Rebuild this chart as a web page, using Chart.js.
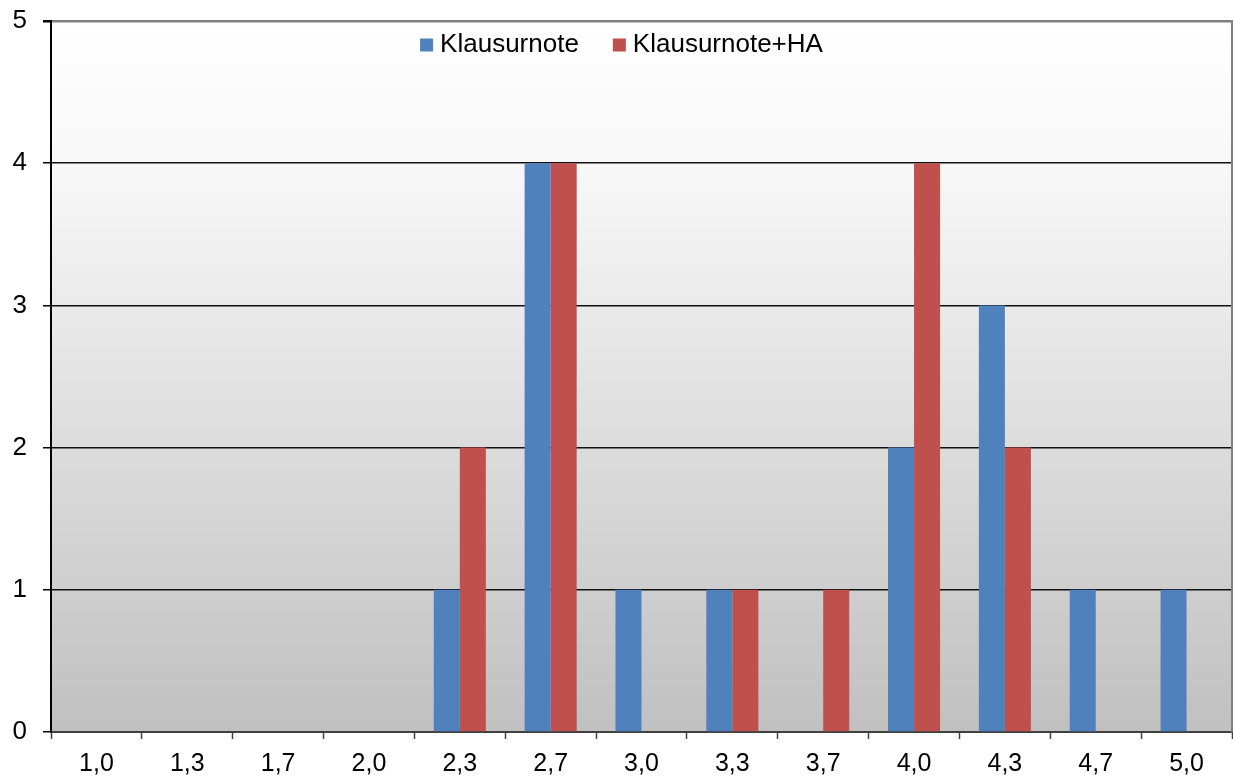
<!DOCTYPE html>
<html>
<head>
<meta charset="utf-8">
<script src="https://cdn.jsdelivr.net/npm/chart.js@4"></script>
<style>
  body { margin: 0; background: #fff; }
  canvas { display: block; }
</style>
</head>
<body>
<canvas id="chart" width="1233" height="781"></canvas>
<script>
const grades = ["1,0", "1,3", "1,7", "2,0", "2,3", "2,7", "3,0", "3,3", "3,7", "4,0", "4,3", "4,7", "5,0"];
const klausurnote = [0, 0, 0, 0, 1, 4, 1, 1, 0, 2, 3, 1, 1];
const klausurnoteHA = [0, 0, 0, 0, 2, 4, 0, 1, 1, 4, 2, 0, 0];
const seriesNames = ["Klausurnote", "Klausurnote+HA"];
const seriesColors = ["#4F81BD", "#C0504D"];

const FONT = "'Liberation Sans', Arial, sans-serif";

// gradient fill behind the plot, plus the grey right border
const plotBackground = {
    id: "plotBackground",
    beforeDraw(chart) {
        const { ctx, chartArea: a } = chart;
        const g = ctx.createLinearGradient(0, a.top, 0, a.bottom);
        g.addColorStop(0, "#ffffff");
        g.addColorStop(0.2, "#f8f8f8");
        g.addColorStop(1, "#c0c0c0");
        ctx.save();
        ctx.fillStyle = g;
        ctx.fillRect(a.left, a.top, a.right - a.left, a.bottom - a.top);
        ctx.restore();
    },
    afterDraw(chart) {
        const { ctx, chartArea: a } = chart;
        ctx.save();
        ctx.strokeStyle = "#808080";
        ctx.lineWidth = 2;
        ctx.beginPath();
        ctx.moveTo(a.right, a.top - 1);
        ctx.lineTo(a.right, a.bottom);
        ctx.stroke();
        ctx.restore();
    }
};

// legend drawn inside the plot area, like the original
const innerLegend = {
    id: "innerLegend",
    afterDatasetsDraw(chart) {
        const { ctx, chartArea: a } = chart;
        const box = 13, gapText = 7, gapItem = 34;
        ctx.save();
        ctx.font = "26px " + FONT;
        ctx.textBaseline = "middle";
        const items = chart.data.datasets.map(d => ({
            label: d.label, color: d.backgroundColor,
            w: box + gapText + ctx.measureText(d.label).width
        }));
        const total = items.reduce((s, it) => s + it.w, 0) + gapItem * (items.length - 1);
        let x = (a.left + a.right) / 2 - 20 - total / 2;
        const y = 45;
        items.forEach(it => {
            ctx.fillStyle = it.color;
            ctx.fillRect(x, y - box / 2, box, box);
            ctx.fillStyle = "#000";
            ctx.fillText(it.label, x + box + gapText, y);
            x += it.w + gapItem;
        });
        ctx.restore();
    }
};

new Chart(document.getElementById("chart"), {
    type: "bar",
    data: {
        labels: grades,
        datasets: [
            { label: seriesNames[0], data: klausurnote, backgroundColor: seriesColors[0] },
            { label: seriesNames[1], data: klausurnoteHA, backgroundColor: seriesColors[1] }
        ]
    },
    options: {
        responsive: false,
        animation: false,
        layout: { padding: { top: 21, right: 1, left: 0, bottom: 0 } },
        datasets: { bar: { barPercentage: 1.0, categoryPercentage: 0.573 } },
        plugins: {
            legend: { display: false },
            tooltip: { enabled: false }
        },
        scales: {
            x: {
                afterFit(scale) {
                    scale.height = 49;
                    scale.paddingLeft = 0;
                    scale.paddingRight = 0;
                },
                grid: {
                    offset: true,
                    drawOnChartArea: false,
                    drawTicks: true,
                    tickLength: 7,
                    tickColor: "#404040",
                    tickWidth: 1.5
                },
                border: { color: "#404040", width: 2 },
                ticks: {
                    color: "#000",
                    font: { family: FONT, size: 25 },
                    padding: 10,
                    maxRotation: 0,
                    autoSkip: false
                }
            },
            y: {
                min: 0,
                max: 5,
                afterFit(scale) {
                    scale.width = 51;
                    scale.paddingTop = 0;
                    scale.paddingBottom = 0;
                },
                grid: {
                    color: c => (c.tick && c.tick.value === 5) ? "#808080" : "#111111",
                    lineWidth: c => (c.tick && c.tick.value === 5) ? 2.5 : 1.5,
                    tickColor: "#000",
                    tickLength: 8,
                    drawTicks: true
                },
                border: { color: "#000", width: 2 },
                ticks: {
                    stepSize: 1,
                    color: "#000",
                    font: { family: FONT, size: 26 },
                    padding: 16
                }
            }
        }
    },
    plugins: [plotBackground, innerLegend]
});
</script>
</body>
</html>
